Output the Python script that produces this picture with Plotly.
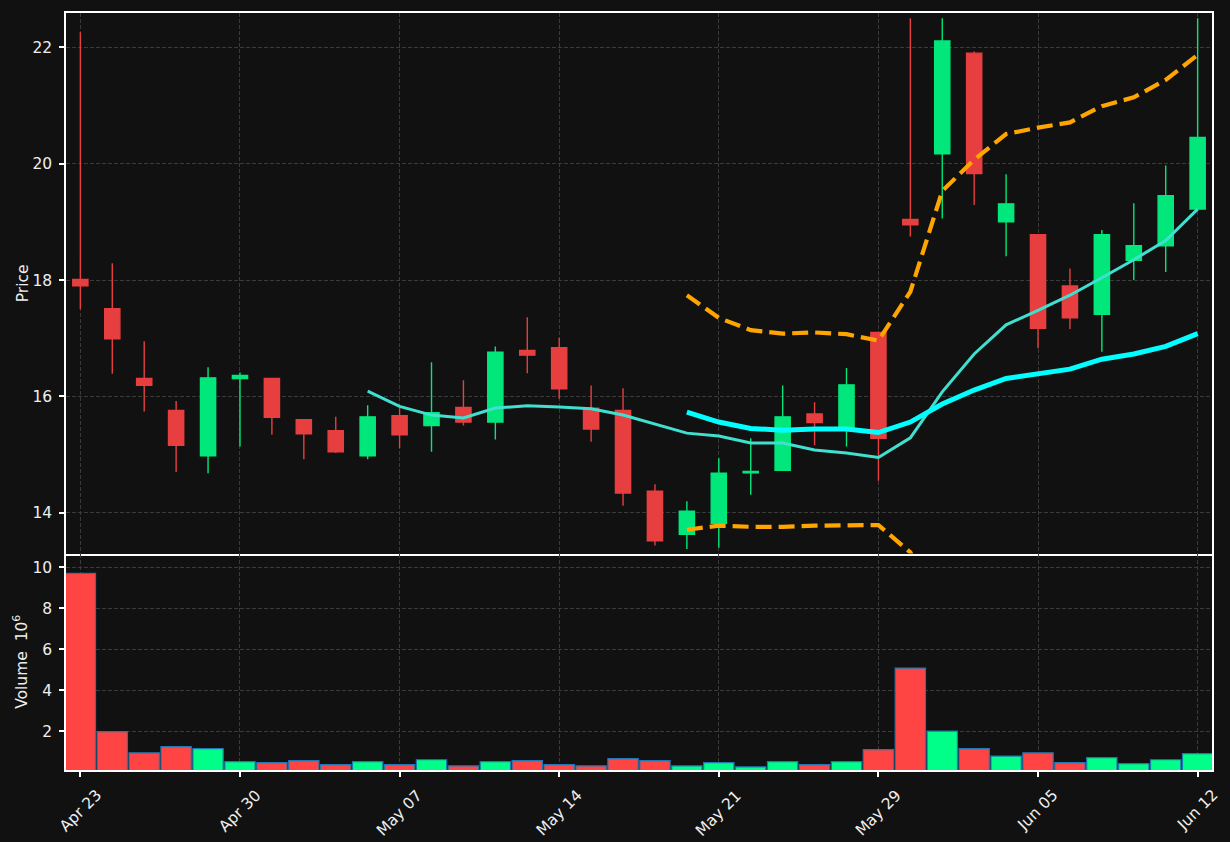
import plotly.graph_objects as go
from plotly.subplots import make_subplots

# ---- data ----
dates = ["Apr 23", "Apr 24", "Apr 25", "Apr 26", "Apr 29", "Apr 30",
         "May 01", "May 02", "May 03", "May 06", "May 07", "May 08",
         "May 09", "May 10", "May 13", "May 14", "May 15", "May 16",
         "May 17", "May 20", "May 21", "May 22", "May 23", "May 24",
         "May 28", "May 29", "May 30", "May 31", "Jun 03", "Jun 04",
         "Jun 05", "Jun 06", "Jun 07", "Jun 10", "Jun 11", "Jun 12"]

opens = [18.01, 17.51, 16.31, 15.76, 14.98, 16.31, 16.31, 15.60, 15.41, 14.98,
         15.67, 15.50, 15.81, 15.56, 16.79, 16.84, 15.80, 15.76, 14.37, 13.63,
         13.82, 14.69, 14.73, 15.70, 15.44, 17.10, 19.04, 20.17, 21.90, 19.00,
         18.78, 17.90, 17.41, 18.34, 18.59, 19.22]
highs = [22.26, 18.29, 16.95, 15.92, 16.50, 16.41, 16.31, 15.60, 15.65, 15.85,
         15.80, 16.59, 16.28, 16.86, 17.36, 17.01, 16.19, 16.14, 14.49, 14.20,
         14.94, 15.28, 16.19, 15.90, 16.49, 17.10, 22.50, 22.50, 21.93, 19.82,
         18.78, 18.20, 18.86, 19.32, 19.97, 22.50]
lows = [17.50, 16.39, 15.74, 14.70, 14.68, 15.14, 15.34, 14.92, 15.03, 14.92,
        15.11, 15.05, 15.50, 15.26, 16.40, 15.96, 15.22, 14.12, 13.44, 13.38,
        13.40, 14.31, 14.73, 15.16, 15.14, 14.55, 18.75, 19.06, 19.29, 18.41,
        16.83, 17.16, 16.77, 18.00, 18.14, 19.22]
closes = [17.90, 16.99, 16.19, 15.16, 16.32, 16.36, 15.64, 15.36, 15.05, 15.65,
          15.34, 15.72, 15.56, 16.76, 16.71, 16.13, 15.44, 14.34, 13.52, 14.03,
          14.68, 14.71, 15.65, 15.55, 16.20, 15.28, 18.95, 22.11, 19.83, 19.31,
          17.17, 17.35, 18.78, 18.59, 19.45, 20.45]
volumes = [9.71, 1.97, 0.94, 1.24, 1.14, 0.51, 0.46, 0.56, 0.36, 0.51,
           0.36, 0.60, 0.30, 0.51, 0.56, 0.36, 0.30, 0.65, 0.56, 0.30,
           0.46, 0.25, 0.51, 0.36, 0.51, 1.09, 5.08, 2.00, 1.14, 0.78,
           0.94, 0.46, 0.70, 0.41, 0.60, 0.90]

# moving average 10 (starts at index 9)
ma10 = [16.09, 15.83, 15.68, 15.63, 15.80, 15.84, 15.82, 15.79, 15.68, 15.53,
        15.37, 15.32, 15.20, 15.20, 15.08, 15.03, 14.95, 15.29, 16.08, 16.73,
        17.23, 17.48, 17.74, 18.04, 18.35, 18.68, 19.22]
# moving average 20 and bands (start at index 19)
ma20 = [15.73, 15.56, 15.45, 15.42, 15.44, 15.44, 15.38, 15.56, 15.87, 16.11,
        16.31, 16.40, 16.47, 16.64, 16.73, 16.86, 17.08]
bb_upper = [17.74, 17.35, 17.14, 17.08, 17.10, 17.07, 16.96, 17.80, 19.53, 20.07,
            20.51, 20.62, 20.71, 20.99, 21.14, 21.44, 21.87]
bb_lower = [13.71, 13.78, 13.76, 13.76, 13.78, 13.79, 13.79, 13.32, 12.21, 12.15,
            12.11, 12.18, 12.23, 12.29, 12.32, 12.28, 12.29]

tick_idx = [0, 5, 10, 15, 20, 25, 30, 35]

# ---- style ----
BG = "#111111"
RED = "#e73f3f"
GREEN = "#02e77c"
VRED = "#ff4444"
VGREEN = "#00ff88"
GRID = "#3a3a3a"
TXT = "#eeeeee"
FONT = "DejaVu Sans"
FS = 15.5

x = list(range(len(dates)))
x_ma10 = x[9:]
x_ma20 = x[19:]

fig = make_subplots(rows=2, cols=1, shared_xaxes=True, vertical_spacing=0,
                    row_heights=[0.7141, 0.2859])

fig.add_trace(go.Candlestick(
    x=x, open=opens, high=highs, low=lows, close=closes,
    increasing=dict(fillcolor=GREEN, line=dict(color=GREEN, width=1.4)),
    decreasing=dict(fillcolor=RED, line=dict(color=RED, width=1.4)),
    whiskerwidth=0, showlegend=False, hoverinfo="skip"), row=1, col=1)

fig.add_trace(go.Scatter(x=x_ma10, y=ma10, mode="lines",
                         line=dict(color="#40e0d0", width=3),
                         showlegend=False, hoverinfo="skip"), row=1, col=1)
fig.add_trace(go.Scatter(x=x_ma20, y=bb_upper, mode="lines",
                         line=dict(color="#ffa500", width=4.2, dash="16px,7px"),
                         showlegend=False, hoverinfo="skip"), row=1, col=1)
fig.add_trace(go.Scatter(x=x_ma20, y=bb_lower, mode="lines",
                         line=dict(color="#ffa500", width=4.2, dash="16px,7px"),
                         showlegend=False, hoverinfo="skip"), row=1, col=1)
fig.add_trace(go.Scatter(x=x_ma20, y=ma20, mode="lines",
                         line=dict(color="#00ffff", width=5),
                         showlegend=False, hoverinfo="skip"), row=1, col=1)

vcolors = [VGREEN if c >= o else VRED for o, c in zip(opens, closes)]
fig.add_trace(go.Bar(x=x, y=volumes, width=0.95,
                     marker=dict(color=vcolors, line=dict(color="#1f77b4", width=1.2)),
                     showlegend=False, hoverinfo="skip"), row=2, col=1)

axis_common = dict(showline=True, linecolor="white", linewidth=1.5,
                   showgrid=True, gridcolor=GRID, griddash="4px,2px", gridwidth=1,
                   zeroline=False, tickfont=dict(family=FONT, size=FS, color=TXT))

fig.update_xaxes(**axis_common, range=[-0.45, 35.45],
                 tickmode="array", tickvals=tick_idx,
                 ticktext=[dates[i] for i in tick_idx])
fig.update_xaxes(row=1, col=1, showticklabels=False, ticks="", mirror=True,
                 rangeslider=dict(visible=False))
fig.update_xaxes(row=2, col=1, ticks="outside", ticklen=5, tickcolor="white",
                 tickwidth=1.5, showticklabels=False, mirror=False)

fig.update_yaxes(**axis_common, mirror=True, ticks="outside", ticklen=5,
                 tickcolor="white", tickwidth=1.5, ticklabelstandoff=4)
fig.update_yaxes(row=1, col=1, range=[13.30, 22.59], tickvals=[14, 16, 18, 20, 22],
                 title=dict(text="Price", font=dict(family=FONT, size=FS, color=TXT),
                            standoff=0))
fig.update_yaxes(row=2, col=1, range=[0.098, 10.68], tickvals=[2, 4, 6, 8, 10],
                 title=dict(text="Volume  10<sup>6</sup>",
                            font=dict(family=FONT, size=FS, color=TXT), standoff=1))

# rotated date labels, centred under each tick
for i in tick_idx:
    fig.add_annotation(x=i, y=-0.018, xref="x2", yref="paper", text=dates[i],
                       textangle=-45, showarrow=False, xanchor="center",
                       yanchor="top", font=dict(family=FONT, size=FS, color=TXT))

fig.update_layout(width=1230, height=842, paper_bgcolor=BG, plot_bgcolor=BG,
                  margin=dict(l=66, r=18, t=11, b=72), boxgap=0.32,
                  font=dict(family=FONT, color=TXT), hovermode=False)

fig.write_html("out.html", config={"displayModeBar": False})
